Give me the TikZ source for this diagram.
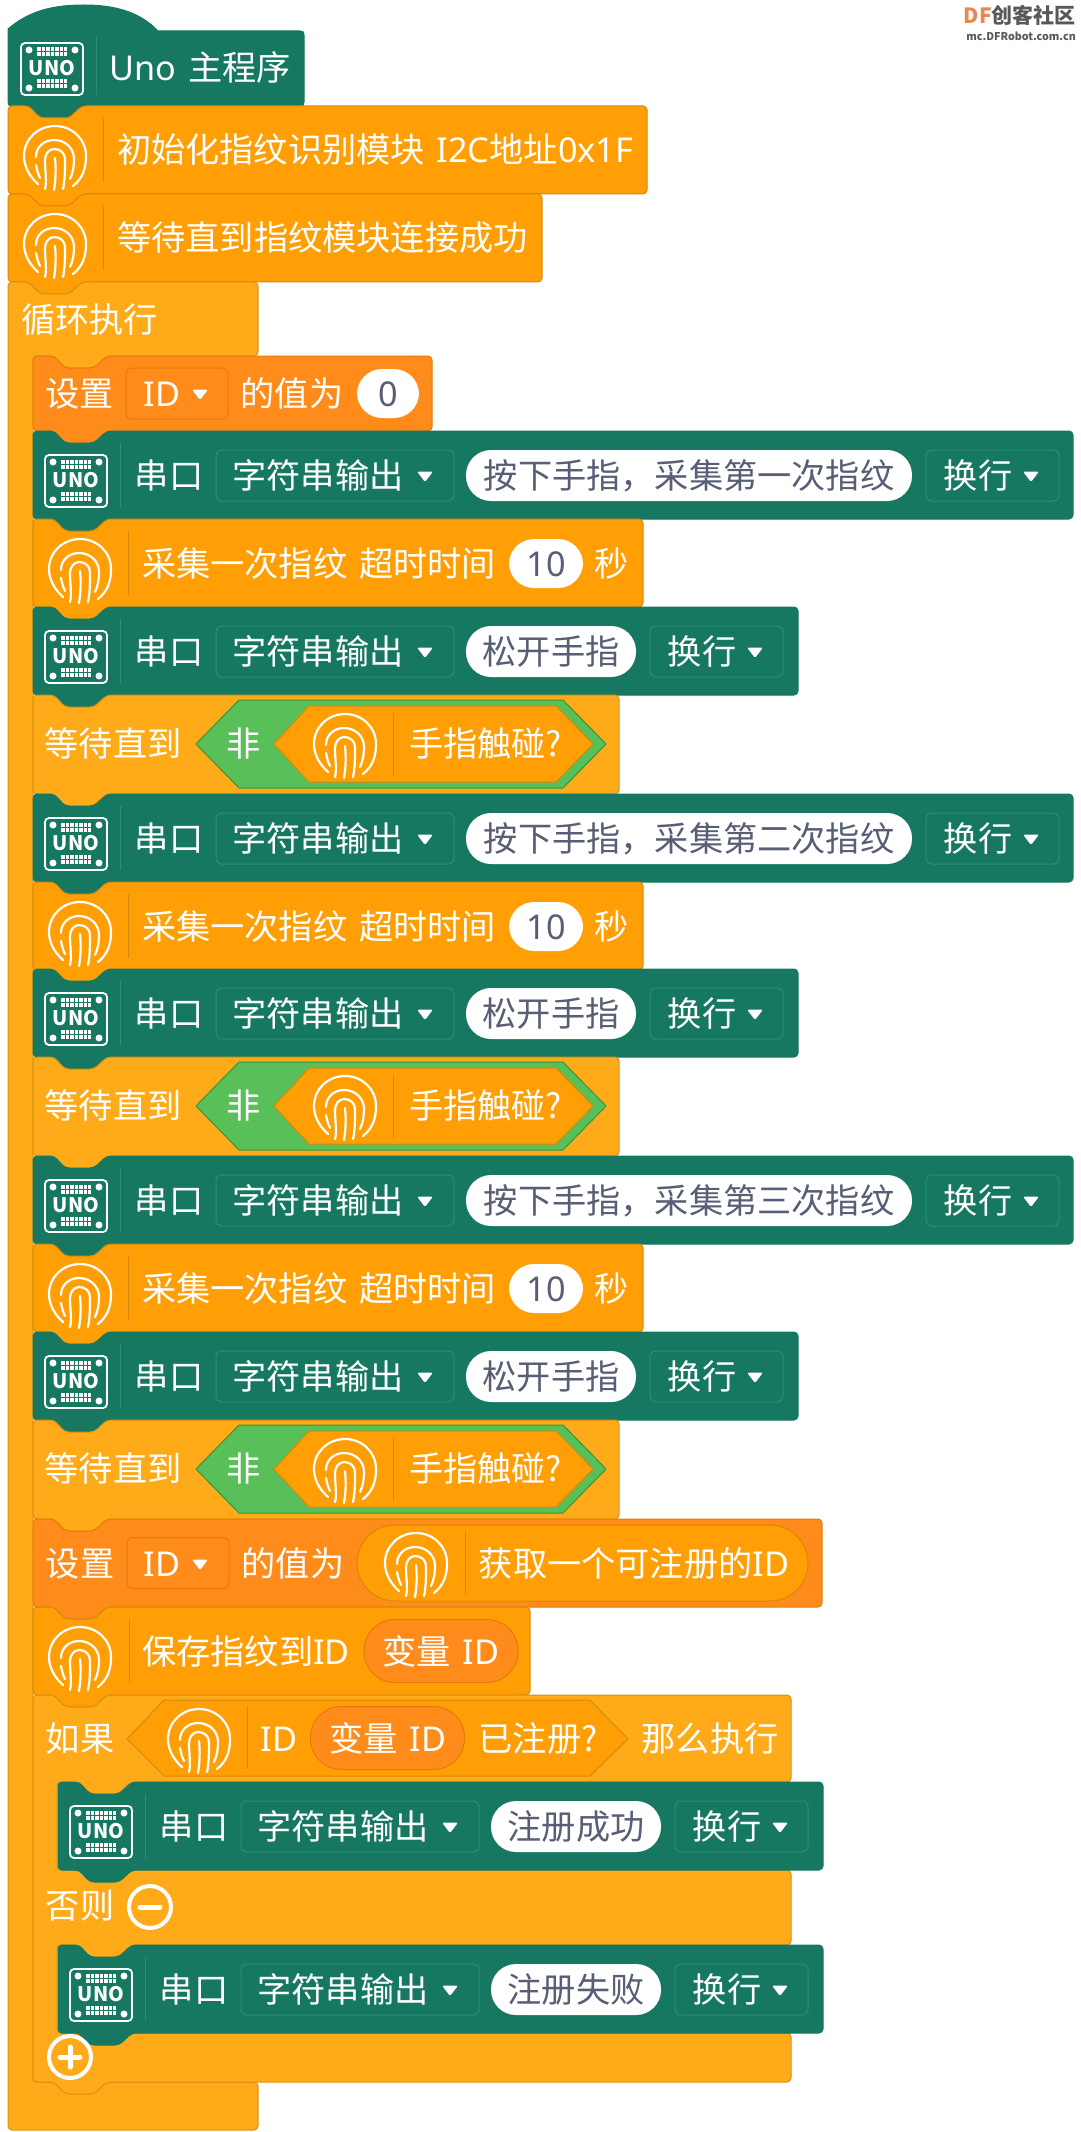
\documentclass[tikz,border=0pt]{standalone}
\usepackage{fontspec}
\setmainfont{Noto Sans CJK SC}
\newfontfamily\latinfont{Noto Sans}
\newcommand{\lat}[1]{{\latinfont #1}}
\newcommand{\blockfont}{\fontsize{34.2}{34}\selectfont\setlength{\spaceskip}{12pt}}
\newcommand{\widecomma}{\symbol{"FF0C}}

\definecolor{unogreen}{HTML}{167860}
\definecolor{unoline}{HTML}{2B8E76}
\definecolor{printorange}{HTML}{FF9F05}
\definecolor{printline}{HTML}{D5880C}
\definecolor{loopyellow}{HTML}{FFAB19}
\definecolor{loopline}{HTML}{D98F12}
\definecolor{varorange}{HTML}{FF8C1A}
\definecolor{varline}{HTML}{E57A0C}
\definecolor{notgreen}{HTML}{59C059}
\definecolor{notline}{HTML}{389438}
\definecolor{pillgray}{HTML}{575E75}
\definecolor{logoorange}{HTML}{E8894F}

\tikzstyle{unoblock}=[fill=unogreen,draw=unogreen,line width=1pt]
\tikzstyle{printblock}=[fill=printorange,draw=printline,line width=1pt]
\tikzstyle{loopblock}=[fill=loopyellow,draw=loopline,line width=1pt]
\tikzstyle{varblock}=[fill=varorange,draw=varline,line width=1pt]
\tikzstyle{blocktext}=[inner sep=0pt,text=white,font=\blockfont,text height=30pt,text depth=4pt]
\tikzstyle{strpill}=[blocktext,rounded corners=25pt,fill=white,text=pillgray,minimum height=51pt]
\tikzstyle{varpill}=[blocktext,rounded corners=31pt,fill=varorange,draw=varline,line width=1pt,minimum width=154pt,minimum height=63pt]
\tikzstyle{dropbox}=[rectangle,rounded corners=6pt,line width=1pt,minimum height=51pt,inner sep=0pt]

\tikzset{
  fingerprint/.pic={
    \draw[white,line width=2.2pt,line cap=round]
      (-17,26) .. controls (-26,18) and (-31,8) .. (-31,-2) .. controls (-31,-19) and (-17,-32) .. (0,-32) .. controls (17,-32) and (31,-19) .. (31,-2) .. controls (31,10) and (28,20) .. (18,28)
      (-19,-1) .. controls (-19,-11) and (-11,-18) .. (-1,-18) .. controls (10,-18) and (19,-10) .. (19,1) .. controls (19,8) and (18,15) .. (15,21)
      (-19,7) .. controls (-18,12) and (-17,16) .. (-15,20)
      (-10,31) .. controls (-8,24) and (-10,12) .. (-10,2) .. controls (-10,-4) and (-6,-9) .. (-1,-9) .. controls (5,-9) and (10,-5) .. (10,1) .. controls (10,12) and (10,22) .. (8,31)
      (0,0) .. controls (1,10) and (1,20) .. (-1,32);
  },
  unochip/.pic={
    \draw[white,line width=1.8pt,rounded corners=4pt] (-31,-26) rectangle (31,26);
    \fill[white] (-23,-19) circle (3.5) (23,-19) circle (3.5) (-23,19) circle (3.5) (23,19) circle (3.5);
    \draw[white,line width=4pt,dash pattern=on 3.5pt off 1pt] (-15,-19.5) -- (15,-19.5) (-15,-14.5) -- (15,-14.5) (-15,12.5) -- (15,12.5) (-15,17.5) -- (15,17.5);
    \node (chiptext) [inner sep=0pt,text=white,font=\fontsize{20}{20}\selectfont\bfseries] at (0,-1) {UNO};
  }
}

% block outline with notch on top and tab below
\newcommand{\blockshape}[5]{
\draw[#1,rounded corners=4pt] (#2,#3) -- (#2+21,#3) -- (#2+32,#3+12) -- (#2+61,#3+12) -- (#2+74,#3) -- (#4,#3) -- (#4,#5) -- (#2+74,#5) -- (#2+61,#5+12) -- (#2+32,#5+12) -- (#2+21,#5) -- (#2,#5) -- cycle;
}
\newcommand{\ddarrow}[2]{
\fill[white,rounded corners=1.5pt] (#1-8,#2-4.5) -- (#1+8,#2-4.5) -- (#1,#2+6) -- cycle;
}
% name, left, top, right, pill width, text
\newcommand{\serialblock}[6]{
\blockshape{unoblock}{#2}{#3}{#4}{#3+88}
\pic at (#2+43,#3+50) {unochip};
\draw[unoline] (#2+87,#3+12) -- (#2+87,#3+76);
\node (#1port) [blocktext] at (#2+136,#3+44) {串口};
\node (#1mode) [dropbox,draw=unoline,minimum width=238pt] at (#2+302,#3+44.5) {};
\node (#1modetext) [blocktext] at (#2+285,#3+44) {字符串输出};
\ddarrow{#2+392}{#3+45}
\node (#1str) [strpill,minimum width=#5 pt] at (#2+433+#5/2,#3+44.5) {#6};
\node (#1line) [dropbox,draw=unoline,minimum width=133pt] at (#2+433+#5+14+66.5,#3+44.5) {};
\node (#1linetext) [blocktext] at (#2+433+#5+14+52,#3+44) {换行};
\ddarrow{#2+433+#5+14+105}{#3+45}
}
\newcommand{\captureblock}[2]{
\blockshape{printblock}{33}{#2}{643}{#2+88}
\pic at (80,#2+52) {fingerprint};
\draw[printline] (128,#2+12) -- (128,#2+76);
\node (#1text) [blocktext] at (319,#2+44) {采集一次指纹 超时时间};
\node (#1time) [strpill,minimum width=74pt,minimum height=49pt] at (546,#2+44.5) {\lat{10}};
\node (#1sec) [blocktext] at (612,#2+44) {秒};
}
\newcommand{\waitblock}[2]{
\blockshape{loopblock}{33}{#2}{619}{#2+99}
\node (#1wait) [blocktext] at (113,#2+48) {等待直到};
\draw[fill=notgreen,draw=notline,line width=1pt] (196,#2+49) -- (239,#2+5) -- (563,#2+5) -- (606,#2+49) -- (563,#2+93) -- (239,#2+93) -- cycle;
\node (#1not) [blocktext] at (244,#2+48) {非};
\draw[printblock] (274,#2+49) -- (309,#2+11) -- (556,#2+11) -- (593,#2+49) -- (556,#2+87) -- (309,#2+87) -- cycle;
\pic at (345,#2+51) {fingerprint};
\draw[printline] (393.5,#2+18) -- (393.5,#2+81);
\node (#1touch) [blocktext] at (485.5,#2+48) {手指触碰?};
}

\begin{document}
\begin{tikzpicture}[x=1pt,y=-1pt]
\useasboundingbox (0,0) rectangle (1080,2132);

% hat block
\draw[unoblock] (8,29) .. controls (30,10) and (55,5) .. (84,5) .. controls (115,5) and (140,12) .. (158,31) -- (300,31) .. controls (303,31) and (304,32) .. (304,35) -- (304,102) .. controls (304,105) and (303,106) .. (300,106) -- (82,106) -- (69,118) -- (40,118) -- (29,106) -- (12,106) .. controls (9,106) and (8,105) .. (8,102) -- cycle;
\pic at (52,69) {unochip};
\draw[unoline] (96,37) -- (96,95);
\node (main) [blocktext] at (200,68) {\lat{Uno} 主程序};

% setup blocks
\blockshape{printblock}{8}{106}{647}{194}
\pic at (55,158) {fingerprint};
\draw[printline] (103,118) -- (103,182);
\node (setup) [blocktext] at (375,150) {初始化指纹识别模块 \lat{I2C}地址\lat{0x1F}};
\blockshape{printblock}{8}{194}{542}{282}
\pic at (55,246) {fingerprint};
\draw[printline] (103,206) -- (103,270);
\node (connect) [blocktext] at (322.5,238) {等待直到指纹模块连接成功};

% forever loop
\draw[loopblock,rounded corners=4pt] (8,282) -- (29,282) -- (40,294) -- (69,294) -- (82,282) -- (258,282) -- (258,356) -- (107,356) -- (94,368) -- (65,368) -- (54,356) -- (33,356) -- (33,2082) -- (258,2082) -- (258,2130) -- (8,2130) -- cycle;
\node (forever) [blocktext] at (89.5,319) {循环执行};

% set ID to 0
\blockshape{varblock}{33}{356}{432}{431}
\node (setlabel) [blocktext] at (79.5,393) {设置};
\node (setid) [dropbox,draw=varline,minimum width=102pt] at (177,393.5) {};
\node (setidtext) [blocktext] at (162,393) {\lat{ID}};
\ddarrow{200}{394}
\node (setvalue) [blocktext] at (292,393) {的值为};
\node (setzero) [strpill,minimum width=62pt,minimum height=49pt] at (388,393.5) {\lat{0}};

% first capture
\serialblock{first}{33}{431}{1073}{446}{按下手指\widecomma{}采集第一次指纹}
\captureblock{capa}{519}
\serialblock{firstup}{33}{607}{798}{170}{松开手指}
\waitblock{waita}{695}

% second capture
\serialblock{second}{33}{794}{1073}{446}{按下手指\widecomma{}采集第二次指纹}
\captureblock{capb}{882}
\serialblock{secondup}{33}{969}{798}{170}{松开手指}
\waitblock{waitb}{1057}

% third capture
\serialblock{third}{33}{1156}{1073}{446}{按下手指\widecomma{}采集第三次指纹}
\captureblock{capc}{1244}
\serialblock{thirdup}{33}{1332}{798}{170}{松开手指}
\waitblock{waitc}{1420}

% set ID to free id
\blockshape{varblock}{33}{1519}{822}{1607}
\node (freelabel) [blocktext] at (80,1563) {设置};
\node (freeid) [dropbox,draw=varline,minimum width=102pt] at (178,1563) {};
\node (freeidtext) [blocktext] at (162,1563) {\lat{ID}};
\ddarrow{200}{1564}
\node (freevalue) [blocktext] at (293,1563) {的值为};
\draw[printblock,rounded corners=38pt] (357,1525) rectangle (808,1601);
\pic at (416,1565) {fingerprint};
\draw[printline] (465,1531) -- (465,1595);
\node (freetext) [blocktext] at (634,1563) {获取一个可注册的\lat{ID}};

% save
\blockshape{printblock}{33}{1607}{530}{1695}
\pic at (80,1659) {fingerprint};
\draw[printline] (129,1619) -- (129,1683);
\node (savetext) [blocktext] at (246,1651) {保存指纹到\lat{ID}};
\node (savevar) [varpill] at (441,1651) {变量 \lat{ID}};

% if else
\draw[loopblock,rounded corners=4pt] (33,1695) -- (54,1695) -- (65,1707) -- (94,1707) -- (107,1695) -- (791,1695) -- (791,1782) -- (131,1782) -- (118,1794) -- (89,1794) -- (78,1782) -- (57,1782) -- (57,1870) -- (791,1870) -- (791,1945) -- (131,1945) -- (118,1957) -- (89,1957) -- (78,1945) -- (57,1945) -- (57,2033) -- (791,2033) -- (791,2082) -- (107,2082) -- (94,2094) -- (65,2094) -- (54,2082) -- (33,2082) -- cycle;
\node (iflabel) [blocktext] at (80,1738) {如果};
\draw[printblock] (127,1739) -- (164,1700) -- (590,1700) -- (628,1739) -- (590,1776) -- (164,1776) -- cycle;
\pic at (199,1741) {fingerprint};
\draw[printline] (247,1706) -- (247,1769);
\node (ifid) [blocktext] at (279,1738) {\lat{ID}};
\node (ifvar) [varpill] at (387.5,1738) {变量 \lat{ID}};
\node (ifreg) [blocktext] at (538,1738) {已注册?};
\node (ifthen) [blocktext] at (710,1738) {那么执行};
\serialblock{okay}{58}{1782}{823}{170}{注册成功}
\node (elselabel) [blocktext] at (80,1905) {否则};
\draw[white,line width=4pt] (150,1907) circle (21);
\draw[white,line width=5pt,line cap=round] (140,1907) -- (160,1907);
\serialblock{fail}{58}{1945}{823}{170}{注册失败}
\draw[white,line width=4pt] (70,2057) circle (21);
\draw[white,line width=5pt,line cap=round] (60,2057) -- (80,2057) (70,2047) -- (70,2067);

% watermark
\node (logo) [inner sep=0pt,anchor=east,font=\fontsize{21}{21}\selectfont\bfseries,text=black!65] at (1076,15) {\textcolor{logoorange}{DF}创客社区};
\node (logourl) [inner sep=0pt,anchor=east,font=\fontsize{10.7}{11}\selectfont\bfseries,text=black!65] at (1076,36.5) {mc.DFRobot.com.cn};
\end{tikzpicture}
\end{document}
